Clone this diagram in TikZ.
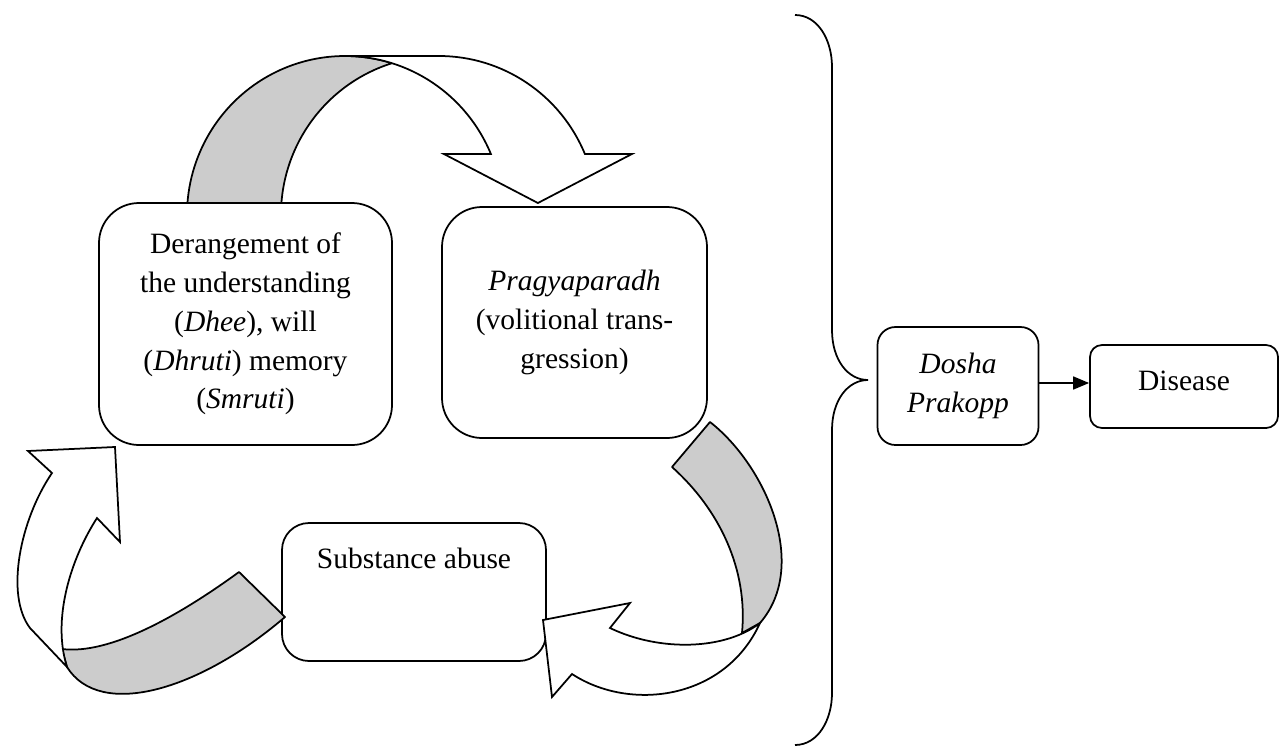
\documentclass[tikz,border=0pt]{standalone}
\usepackage{fontspec}
\setmainfont{Liberation Serif}
\usetikzlibrary{arrows.meta}
\begin{document}
\begin{tikzpicture}[
x=0.4pt, y=-0.4pt, line width=0.7pt,
box/.style={draw, fill=white, align=center, font=\fontsize{11.8}{15.5}\selectfont},
back/.style={draw, fill=gray!40, line join=round},
front/.style={draw, fill=white}
]
\useasboundingbox (0,0) rectangle (1280,747);

% the three states of the cycle
\node[box, rounded corners=16pt, minimum width=117.2pt, minimum height=96.8pt] (mind) at (245.5,324)
  {Derangement of\\the understanding\\(\textit{Dhee}), will\\(\textit{Dhruti}) memory\\(\textit{Smruti})};
\node[box, rounded corners=16pt, minimum width=106pt, minimum height=92.4pt] (pragya) at (574.5,322.5)
  {\textit{Pragyaparadh}\\(volitional trans-\\gression)};
\node[box, rounded corners=10.8pt, minimum width=105.6pt, minimum height=55.2pt,
  text height=9pt, text depth=28pt] (abuse) at (414,592) {Substance abuse};

% outcome
\node[box, rounded corners=7.2pt, minimum width=64.4pt, minimum height=47.2pt] (dosha) at (958,386)
  {\textit{Dosha}\\\textit{Prakopp}};
\node[box, rounded corners=4.8pt, minimum width=75.2pt, minimum height=33.2pt,
  text height=8pt, text depth=4.8pt] (disease) at (1184,386.5) {Disease};
\draw[-{Triangle[length=6.4pt,width=5.2pt]}] ([yshift=1.2pt]dosha.east) -- ([yshift=1.2pt]dosha.east -| disease.west);

% brace
\coordinate (tip) at (868,380);
\draw (795,15) .. controls (818,15) and (832,40) .. (832,67) -- (832,330)
  .. controls (832,360) and (848,380) .. (tip)
  .. controls (848,380) and (832,400) .. (832,430) -- (832,693)
  .. controls (832,720) and (818,745) .. (795,745);

% curved arrow: mind -> pragya
\draw[back] (187.45,203) arc[start angle=184.33, end angle=287.30, x radius=158, y radius=159]
  arc[start angle=252.70, end angle=184.33, x radius=158, y radius=159] -- cycle;
\draw[front] (345,56) -- (439,56) arc[start angle=270, end angle=337.44, x radius=158, y radius=159]
  -- ++(47,0) -- ++(-94,49) -- ++(-94,-49) -- ++(47,0)
  arc[start angle=337.44, end angle=270, x radius=158, y radius=159] -- cycle;

% curved arrow: pragya -> abuse
\draw[back] (710,422) .. controls (765,465) and (810,565) .. (760,623) -- (742,633)
  .. controls (748,570) and (720,510) .. (672,467) -- cycle;
\draw[front] (760,623) .. controls (725,700) and (630,712) .. (572,674) -- (552,697) -- (543,620)
  -- (630,603) -- (610,628) .. controls (660,652) and (725,650) .. (760,623) -- cycle;

% curved arrow: abuse -> mind
\draw[back] (239,572) .. controls (180,615) and (110,655) .. (62,649) -- (67,667)
  .. controls (100,720) and (200,690) .. (285,617) -- cycle;
\draw[front] (67,667) -- (30,628) .. controls (5,595) and (20,520) .. (52,473) -- (28,451)
  -- (115,447) -- (120,542) -- (97,518) .. controls (70,560) and (52,620) .. (67,667) -- cycle;
\end{tikzpicture}
\end{document}
